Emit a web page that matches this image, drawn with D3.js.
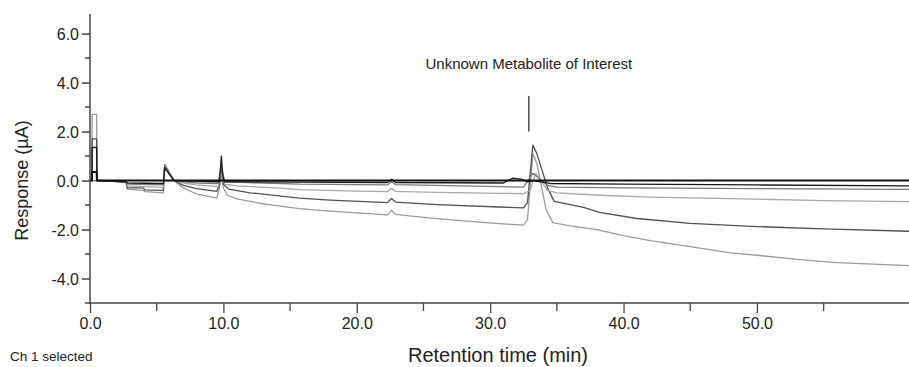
<!DOCTYPE html>
<html>
<head>
<meta charset="utf-8">
<script src="https://cdn.jsdelivr.net/npm/d3@7"></script>
<style>
  body { margin: 0; background: #fff; }
  svg { display: block; }
  .tick-label { font-family: "Liberation Sans", Arial, sans-serif; font-size: 16px; fill: #222; }
  .title { font-family: "Liberation Sans", Arial, sans-serif; fill: #222; }
</style>
</head>
<body>
<svg id="chart" width="909" height="367"></svg>
<script>
// retention time (min), response (uA) pairs
const traceA = [[0,0],[0.15,0],[0.16,0.35],[0.5,0.35],[0.52,0],[61.4,0]];

const traceB1 = [[0,0],[0.15,0],[0.16,1.35],[0.5,1.35],[0.52,0],[2.7,-0.05],[2.8,-0.1],[5.5,-0.12],[5.6,0.55],
  [6.3,0],[9.7,-0.05],[9.85,1.0],[9.95,0.2],[10.1,-0.05],[22.3,-0.08],[22.6,0.05],[22.9,-0.08],[31.0,-0.1],
  [31.7,0.1],[32.4,0.05],[32.8,-0.05],[33.2,0.0],[34.5,-0.12],[40,-0.15],[50,-0.18],[61.4,-0.22]];

const traceB2 = [[0,0],[0.5,0],[2.7,-0.04],[2.8,-0.15],[5.5,-0.18],[5.6,0.5],[6.3,0],[8,-0.1],[9.6,-0.12],
  [9.85,0.6],[10.1,-0.05],[15.7,-0.15],[22.3,-0.18],[22.6,-0.05],[22.9,-0.17],[30.7,-0.25],[32.5,-0.27],
  [33.2,0.3],[34.3,-0.2],[35,-0.27],[40,-0.3],[50,-0.33],[61.4,-0.36]];

const traceC = [[0,0],[0.5,0],[1.5,-0.02],[2.7,-0.05],[2.8,-0.22],[4,-0.25],[5.5,-0.28],[5.6,0.6],[5.9,0.35],
  [6.3,0],[7,-0.1],[8,-0.18],[9.6,-0.25],[9.85,0.3],[10.1,-0.15],[11,-0.22],[14,-0.3],[15.7,-0.37],[20,-0.43],
  [22.3,-0.45],[22.6,-0.32],[22.9,-0.44],[26,-0.48],[30.7,-0.52],[32.5,-0.54],[33.0,-0.4],[33.4,0.3],[34.3,-0.4],
  [35,-0.5],[38.2,-0.6],[42,-0.68],[46,-0.72],[50,-0.76],[55,-0.82],[61.4,-0.86]];

const traceD = [[0,0],[0.15,0],[0.16,1.7],[0.5,1.7],[0.52,0],[1.5,-0.02],[2.7,-0.06],[2.8,-0.3],[4,-0.3],
  [4.1,-0.38],[5.5,-0.4],[5.6,0.65],[5.9,0.38],[6.3,0],[7,-0.2],[8,-0.33],[9.5,-0.44],[9.7,-0.2],[9.85,0.5],
  [10.0,-0.15],[10.4,-0.35],[12,-0.5],[15.7,-0.72],[18,-0.8],[22.3,-0.9],[22.6,-0.73],[22.9,-0.88],[26,-0.98],
  [30.7,-1.08],[32.5,-1.12],[32.8,-0.9],[33.2,1.45],[33.5,1.1],[34.3,-0.3],[34.8,-0.85],[37,-1.1],[38.2,-1.3],
  [41,-1.55],[45,-1.75],[50,-1.88],[55,-1.97],[61.4,-2.07]];

const traceE = [[0,0],[0.15,0],[0.16,2.7],[0.5,2.7],[0.52,0.05],[1.5,-0.02],[2.7,-0.08],[2.8,-0.35],[4,-0.4],
  [4.1,-0.45],[5.5,-0.5],[5.6,0.6],[5.9,0.35],[6.3,0],[7,-0.3],[8,-0.55],[9.5,-0.72],[9.7,-0.3],[9.85,0.3],
  [10.0,-0.3],[10.3,-0.6],[11,-0.75],[13,-0.95],[15.7,-1.15],[18,-1.25],[20,-1.32],[22.3,-1.4],[22.6,-1.22],
  [22.9,-1.38],[25,-1.5],[28,-1.65],[30.7,-1.76],[32.5,-1.82],[32.8,-1.6],[33.2,1.1],[33.5,0.7],[34.2,-1.2],
  [34.7,-1.72],[36,-1.85],[38,-2.0],[40,-2.25],[42,-2.45],[45,-2.7],[48,-2.95],[50,-3.05],[53,-3.22],
  [56,-3.35],[61.4,-3.47]];

const xMajorTicks = [0, 10, 20, 30, 40, 50];
const xMinorTicks = [5, 15, 25, 35, 45, 55];
const yMajorTicks = [6, 4, 2, 0, -2, -4];
const yMinorTicks = [5, 3, 1, -1, -3, -5];

const annotation = { label: 'Unknown Metabolite of Interest', t: 32.9, top: 3.45, bottom: 2.0, textY: 4.55 };

const traces = [
  { name: 'E', data: traceE, color: '#9a9a9a', width: 1.3 },
  { name: 'D', data: traceD, color: '#505050', width: 1.3 },
  { name: 'C', data: traceC, color: '#a8a8a8', width: 1.3 },
  { name: 'B2', data: traceB2, color: '#7a7a7a', width: 1.3 },
  { name: 'B1', data: traceB1, color: '#1a1a1a', width: 1.3 },
  { name: 'A', data: traceA, color: '#111111', width: 2 },
];

const svg = d3.select('#chart');
const x = d3.scaleLinear().domain([0, 61.4]).range([90, 909]);
const y = d3.scaleLinear().domain([-5, 6.8]).range([303, 14]);
const fmt = (d) => d.toFixed(1); // plain hyphen minus, like the instrument software

// traces
const line = d3.line().x((d) => x(d[0])).y((d) => y(d[1]));
svg.append('g')
  .selectAll('path')
  .data(traces)
  .join('path')
  .attr('d', (d) => line(d.data))
  .attr('fill', 'none')
  .attr('stroke', (d) => d.color)
  .attr('stroke-width', (d) => d.width)
  .attr('stroke-linejoin', 'round');

// y axis
const axisColor = '#444';
const gy = svg.append('g').attr('transform', `translate(${x(0)},0)`);
gy.call(d3.axisLeft(y).tickValues(yMajorTicks).tickSize(8).tickFormat(fmt));
gy.call((g) => g.select('.domain').remove());
gy.selectAll('.tick line').attr('stroke', axisColor).attr('stroke-width', 1.5);
gy.selectAll('.tick text').attr('class', 'tick-label').attr('x', -11).attr('dy', '0.35em');
gy.selectAll('.minor')
  .data(yMinorTicks)
  .join('line')
  .attr('class', 'minor')
  .attr('x1', -5).attr('x2', 0)
  .attr('y1', (d) => y(d)).attr('y2', (d) => y(d))
  .attr('stroke', axisColor).attr('stroke-width', 1.5);
gy.append('line')
  .attr('x1', 0).attr('x2', 0)
  .attr('y1', y(6.8)).attr('y2', y(-5))
  .attr('stroke', axisColor).attr('stroke-width', 1.5);

// x axis
const gx = svg.append('g').attr('transform', `translate(0,${y(-5)})`);
gx.call(d3.axisBottom(x).tickValues(xMajorTicks).tickSize(10).tickFormat(fmt));
gx.call((g) => g.select('.domain').remove());
gx.selectAll('.tick line').attr('stroke', axisColor).attr('stroke-width', 1.3);
gx.selectAll('.tick text').attr('class', 'tick-label').attr('y', 15);
gx.selectAll('.minor')
  .data(xMinorTicks)
  .join('line')
  .attr('class', 'minor')
  .attr('x1', (d) => x(d)).attr('x2', (d) => x(d))
  .attr('y1', 0).attr('y2', 8)
  .attr('stroke', axisColor).attr('stroke-width', 1.3);
gx.append('line')
  .attr('x1', x(0) - 1).attr('x2', 909)
  .attr('y1', 0).attr('y2', 0)
  .attr('stroke', axisColor).attr('stroke-width', 1.5);

// titles
svg.append('text')
  .attr('class', 'title')
  .attr('transform', `translate(28,${y(0)}) rotate(-90)`)
  .attr('text-anchor', 'middle')
  .style('font-size', '18px')
  .text('Response (µA)');

svg.append('text')
  .attr('class', 'title')
  .attr('x', 498).attr('y', 362)
  .attr('text-anchor', 'middle')
  .style('font-size', '20px')
  .text('Retention time (min)');

svg.append('text')
  .attr('class', 'tick-label')
  .attr('x', 10).attr('y', 361)
  .style('font-size', '13.5px')
  .text('Ch 1 selected');

// annotation
svg.append('line')
  .attr('x1', x(annotation.t)).attr('x2', x(annotation.t))
  .attr('y1', y(annotation.top)).attr('y2', y(annotation.bottom))
  .attr('stroke', '#333').attr('stroke-width', 1.3);
svg.append('text')
  .attr('class', 'tick-label')
  .attr('x', x(annotation.t)).attr('y', y(annotation.textY))
  .attr('text-anchor', 'middle')
  .style('font-size', '15px')
  .text(annotation.label);
</script>
</body>
</html>
